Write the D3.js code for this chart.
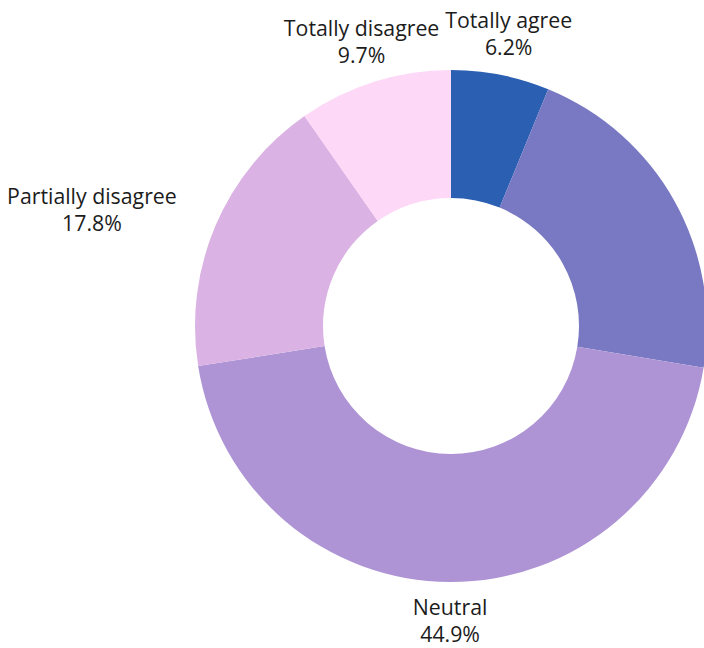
<!DOCTYPE html>
<html>
<head>
<meta charset="utf-8">
<script src="https://cdn.jsdelivr.net/npm/d3@7/dist/d3.min.js"></script>
<style>
  html, body { margin: 0; padding: 0; background: #ffffff; }
  svg { display: block; }
  text { font-family: "Open Sans", "Noto Sans", sans-serif; font-size: 21.3px; fill: #1c1c1c; }
</style>
</head>
<body>
<svg id="chart" width="704" height="648"></svg>
<script>
// Survey answers, clockwise from the top
const categories = ["Totally agree", "Partially agree", "Neutral", "Partially disagree", "Totally disagree"];
const shares = [6.2, 21.4, 44.9, 17.8, 9.7];
const colors = ["#2b5fb1", "#7878c3", "#ae94d5", "#dab2e3", "#fdd8f7"];

const width = 704, height = 648;
const cx = 451, cy = 326;
const outerR = 256, innerR = 128, labelR = 298;
const lineGap = 27;

const data = categories.map((c, i) => ({ name: c, value: shares[i], color: colors[i] }));

const svg = d3.select("#chart");
const g = svg.append("g").attr("transform", `translate(${cx},${cy})`);

const pie = d3.pie().value(d => d.value).sort(null);
const arc = d3.arc().innerRadius(innerR).outerRadius(outerR);
const arcs = pie(data);

g.selectAll("path.slice")
  .data(arcs)
  .join("path")
  .attr("class", "slice")
  .attr("d", arc)
  .attr("fill", d => d.data.color);

// Two-line labels placed just outside each slice's mid angle;
// a label whose anchor falls beyond the drawing area is left out
arcs.forEach(a => {
  const mid = (a.startAngle + a.endAngle) / 2;
  const px = labelR * Math.sin(mid);
  const py = -labelR * Math.cos(mid);
  if (cx + px > width || cx + px < 0) return;
  const s = Math.sin(mid);
  const lines = [a.data.name, d3.format(".1f")(a.data.value) + "%"];
  const text = g.append("text")
    .attr("text-anchor", "middle")
    .attr("dominant-baseline", "central");
  const spans = lines.map((t, i) =>
    text.append("tspan")
      .attr("x", 0)
      .attr("y", (i - (lines.length - 1) / 2) * lineGap)
      .text(t));
  const blockW = d3.max(spans, t => t.node().getComputedTextLength());
  let ox = px;
  if (s > 0.5) ox = px + blockW / 2;
  else if (s < -0.5) ox = px - blockW / 2;
  // keep the block inside the bottom edge
  let oy = py - 1;
  const bottom = cy + oy + lineGap / 2 + 15;
  if (bottom > height) oy -= bottom - height;
  text.attr("transform", `translate(${ox},${oy})`);
});
</script>
</body>
</html>
